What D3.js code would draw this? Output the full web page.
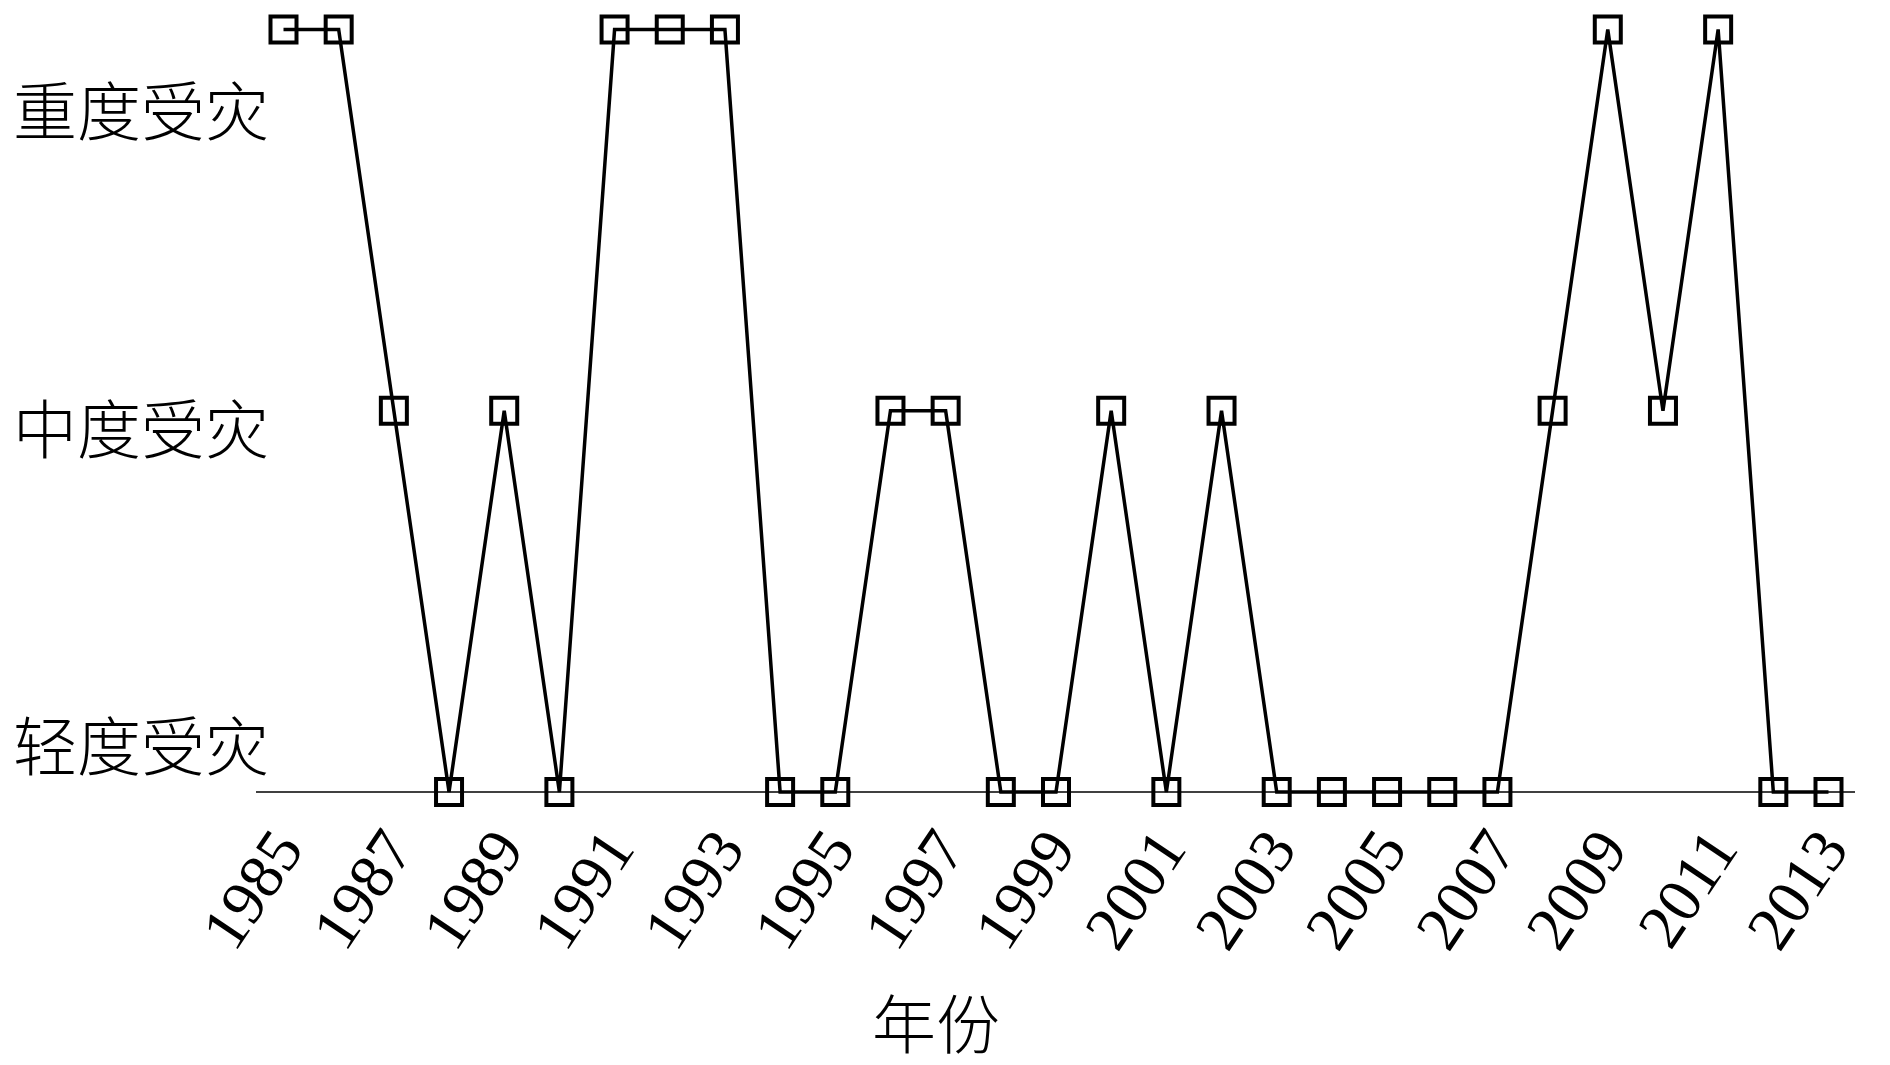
<!DOCTYPE html>
<html>
<head>
<meta charset="utf-8">
<script src="https://cdn.jsdelivr.net/npm/d3@7"></script>
<style>
  html, body { margin: 0; padding: 0; background: #fff; }
  svg { display: block; }
</style>
</head>
<body>
<svg id="chart" width="1890" height="1065"></svg>
<script>
const years = [1985,1986,1987,1988,1989,1990,1991,1992,1993,1994,1995,1996,1997,1998,1999,
               2000,2001,2002,2003,2004,2005,2006,2007,2008,2009,2010,2011,2012,2013];
// 0 = 轻度受灾, 1 = 中度受灾, 2 = 重度受灾
const levels = [2,2,1,0,1,0,2,2,2,0,0,1,1,0,0,
                1,0,1,0,0,0,0,0,1,2,1,2,0,0];
const levelLabels = ["轻度受灾", "中度受灾", "重度受灾"];
const tickYears = [1985,1987,1989,1991,1993,1995,1997,1999,2001,2003,2005,2007,2009,2011,2013];
const xTitle = "年份";

const svg = d3.select("#chart");
const x = d3.scaleLinear().domain([1985, 2013]).range([283.5, 1828.5]);
const y = d3.scaleLinear().domain([0, 2]).range([792, 29.5]);
const yLab = d3.scalePoint().domain(levelLabels).range([747, 112]);

const data = years.map((yr, i) => ({ yr, v: levels[i] }));

// baseline
svg.append("line")
  .attr("x1", 256).attr("x2", 1855)
  .attr("y1", y(0)).attr("y2", y(0))
  .attr("stroke", "#000").attr("stroke-width", 1.5);

// x axis tick labels via d3 axis
const xAxis = d3.axisBottom(x).tickValues(tickYears).tickFormat(d3.format("d")).tickSize(0);
const gx = svg.append("g").attr("transform", `translate(0, ${y(0)})`).call(xAxis);
gx.select(".domain").remove();
gx.selectAll(".tick text")
  .attr("font-family", "'Liberation Serif', 'Times New Roman', serif")
  .attr("font-size", 63)
  .attr("fill", "#000")
  .attr("text-anchor", "end")
  .attr("dy", null)
  .attr("y", null)
  .attr("transform", "translate(21, 57) rotate(-56)");

// y category labels
svg.append("g").selectAll("text")
  .data(levelLabels)
  .join("text")
  .attr("x", 13)
  .attr("y", d => yLab(d))
  .attr("dy", "0.36em")
  .attr("font-family", "'Noto Sans CJK SC', sans-serif")
  .attr("font-weight", 300)
  .attr("font-size", 64)
  .attr("fill", "#000")
  .text(d => d);

// x title
svg.append("text")
  .attr("x", 936).attr("y", 1025).attr("dy", "0.36em")
  .attr("text-anchor", "middle")
  .attr("font-family", "'Noto Sans CJK SC', sans-serif")
  .attr("font-weight", 300)
  .attr("font-size", 64)
  .attr("fill", "#000")
  .text(xTitle);

// line
const line = d3.line().x(d => x(d.yr)).y(d => y(d.v));
svg.append("path")
  .datum(data)
  .attr("d", line)
  .attr("fill", "none")
  .attr("stroke", "#000")
  .attr("stroke-width", 3.5)
  .attr("stroke-linejoin", "miter");

// square markers
const s = 26;
svg.append("g").selectAll("rect")
  .data(data)
  .join("rect")
  .attr("x", d => x(d.yr) - s / 2)
  .attr("y", d => y(d.v) - s / 2)
  .attr("width", s).attr("height", s)
  .attr("fill", "none")
  .attr("stroke", "#000")
  .attr("stroke-width", 4);
</script>
</body>
</html>
